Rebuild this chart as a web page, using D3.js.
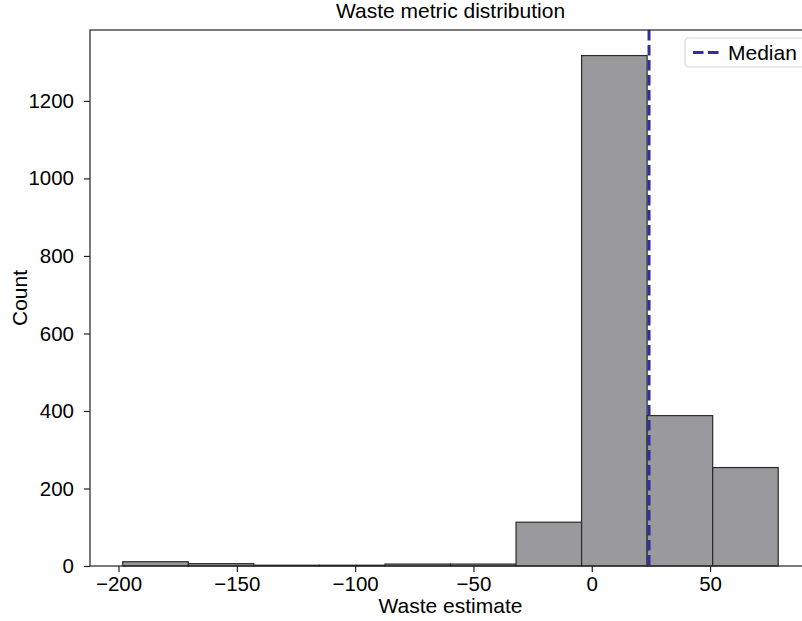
<!DOCTYPE html>
<html><head><meta charset="utf-8">
<script src="https://cdn.jsdelivr.net/npm/d3@7"></script>
<style>body{margin:0;background:#fff}svg{display:block}text{font-family:"Liberation Sans",Arial,sans-serif;fill:#000}</style>
</head><body><svg id="c" width="802" height="621"></svg>
<script>
const binEdges = [-198.2, -170.5, -142.8, -115.1, -87.4, -59.7, -32.0, -4.3, 23.4, 51.1, 78.8];
const counts = [11, 6, 2, 2, 5, 5, 113, 1317, 388, 254];
const medianValue = 24.2;
const xTicks = [-200, -150, -100, -50, 0, 50];
const yTicks = [0, 200, 400, 600, 800, 1000, 1200];
const title = "Waste metric distribution";
const xLabel = "Waste estimate";
const yLabel = "Count";
const legendLabel = "Median";

const svg = d3.select("#c");
const L = 90, R = 811, T = 30, B = 566;
const x = d3.scaleLinear().domain([-212.05, 92.65]).range([L, R]);
const y = d3.scaleLinear().domain([0, 1383]).range([B, T]);
const fs = 21;

const bins = counts.map((c, i) => ({x0: binEdges[i], x1: binEdges[i + 1], c}));
svg.append("g").selectAll("rect").data(bins).join("rect")
  .attr("x", d => x(d.x0)).attr("width", d => x(d.x1) - x(d.x0))
  .attr("y", d => y(d.c)).attr("height", d => y(0) - y(d.c))
  .attr("fill", "#9a9a9c").attr("stroke", "#2a2a2a").attr("stroke-width", 1.2);

svg.append("line").attr("x1", x(medianValue)).attr("x2", x(medianValue))
  .attr("y1", T).attr("y2", B)
  .attr("stroke", "#2f2fa3").attr("stroke-width", 3).attr("stroke-dasharray", "10.5,4.5");

// spines
svg.append("rect").attr("x", L).attr("y", T).attr("width", R - L).attr("height", B - T)
  .attr("fill", "none").attr("stroke", "#222").attr("stroke-width", 1.2);

const fmt = d => (d < 0 ? "\u2212" : "") + d3.format("d")(Math.abs(d));
const xAxis = svg.append("g").attr("transform", `translate(0,${B})`)
  .call(d3.axisBottom(x).tickValues(xTicks).tickSize(6).tickPadding(4).tickFormat(fmt));
const yAxis = svg.append("g").attr("transform", `translate(${L},0)`)
  .call(d3.axisLeft(y).tickValues(yTicks).tickSize(6).tickPadding(10).tickFormat(fmt));
[xAxis, yAxis].forEach(a => {
  a.select(".domain").remove();
  a.selectAll("line").attr("stroke", "#222").attr("stroke-width", 1.2);
  a.selectAll("text").attr("font-size", 20.5).attr("font-family", '"Liberation Sans",Arial,sans-serif').attr("fill", "#000");
});

svg.append("text").attr("x", (L + R) / 2).attr("y", 18).attr("text-anchor", "middle").attr("font-size", fs).text(title);
svg.append("text").attr("x", (L + R) / 2).attr("y", 613).attr("text-anchor", "middle").attr("font-size", fs).text(xLabel);
svg.append("text").attr("transform", `translate(27,${(T + B) / 2}) rotate(-90)`).attr("text-anchor", "middle").attr("font-size", fs).text(yLabel);

// legend
const lg = svg.append("g").attr("transform", "translate(685,38)");
lg.append("rect").attr("width", 130).attr("height", 29).attr("rx", 4)
  .attr("fill", "#fff").attr("stroke", "#d8d8d8").attr("stroke-width", 1.2);
lg.append("line").attr("x1", 8).attr("x2", 37).attr("y1", 14.5).attr("y2", 14.5)
  .attr("stroke", "#2f2fa3").attr("stroke-width", 3).attr("stroke-dasharray", "10.5,4.5");
lg.append("text").attr("x", 43).attr("y", 22).attr("font-size", fs).text(legendLabel);
</script></body></html>
